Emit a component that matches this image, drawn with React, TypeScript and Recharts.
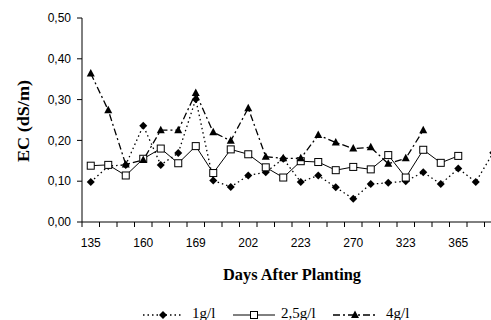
import React from 'react';
import { LineChart, Line, XAxis, YAxis } from 'recharts';

// days printed under every third sample
const tickDays = ['135', '160', '169', '202', '223', '270', '323', '365'];

// EC (dS/m) per sample
const g1 = [0.098, 0.137, 0.14, 0.236, 0.14, 0.169, 0.301, 0.102, 0.086, 0.114, 0.122, 0.155,
  0.098, 0.114, 0.085, 0.057, 0.093, 0.096, 0.1, 0.122, 0.093, 0.131, 0.098, 0.17];
const g25 = [0.138, 0.14, 0.114, 0.155, 0.18, 0.144, 0.186, 0.12, 0.178, 0.166, 0.134, 0.109,
  0.149, 0.147, 0.127, 0.135, 0.129, 0.164, 0.109, 0.177, 0.145, 0.162];
const g4 = [0.364, 0.274, 0.141, 0.152, 0.225, 0.225, 0.316, 0.22, 0.199, 0.279, 0.16, 0.156,
  0.156, 0.213, 0.195, 0.18, 0.183, 0.143, 0.156, 0.225];

const yTicks = [0, 0.1, 0.2, 0.3, 0.4, 0.5];

const data = g1.map((v, i) => ({
  x: i + 0.5,
  g1: v,
  g25: g25[i] ?? null,
  g4: g4[i] ?? null,
}));
const bandTicks = Array.from({ length: g1.length + 1 }, (_, i) => i);
const labelTicks = tickDays.map((_, i) => i * 3 + 0.5);

const sans = '"Liberation Sans", Arial, sans-serif';
const serif = '"Liberation Serif", "Times New Roman", serif';

const diamond = (cx: number, cy: number, k?: any) => (
  <path key={k} d={`M${cx},${cy - 4}L${cx + 4},${cy}L${cx},${cy + 4}L${cx - 4},${cy}Z`} fill="#000" />
);
const square = (cx: number, cy: number, k?: any) => (
  <rect key={k} x={cx - 3.5} y={cy - 3.5} width={7} height={7} fill="#fff" stroke="#000" strokeWidth={1} />
);
const triangle = (cx: number, cy: number, k?: any) => (
  <path key={k} d={`M${cx},${cy - 4.5}L${cx + 4},${cy + 3}L${cx - 4},${cy + 3}Z`} fill="#000" />
);

const dotOf = (shape: (cx: number, cy: number, k?: any) => React.ReactElement) => (p: any) =>
  p.cy == null || p.value == null ? <g key={`e${p.index}`} /> : shape(p.cx, p.cy, `m${p.index}`);

const App = () => (
  <div style={{ position: 'absolute', left: 0, top: 0, width: 491, height: 320, overflow: 'hidden', background: '#fff' }}>
    <LineChart width={502} height={320} data={data} margin={{ top: 18, right: 0, bottom: 68, left: 0 }}>
      <XAxis
        xAxisId="band"
        type="number"
        dataKey="x"
        domain={[0, 24]}
        ticks={bandTicks}
        interval={0}
        tickFormatter={() => ''}
        height={1}
        tickSize={5}
        axisLine={{ stroke: '#000' }}
        tickLine={{ stroke: '#000' }}
      />
      <XAxis
        xAxisId="lab"
        type="number"
        dataKey="x"
        domain={[0, 24]}
        ticks={labelTicks}
        interval={0}
        tickFormatter={(v: number) => tickDays[Math.round((v - 0.5) / 3)]}
        axisLine={false}
        tickLine={false}
        height={29}
        tickSize={5}
        tickMargin={10}
        tick={{ fill: '#000', fontSize: 12, fontFamily: sans }}
      />
      <YAxis
        width={82}
        domain={[0, 0.5]}
        ticks={yTicks}
        interval={0}
        tickSize={5}
        tickMargin={6}
        tickFormatter={(v: number) => v.toFixed(2).replace('.', ',')}
        axisLine={{ stroke: '#000' }}
        tickLine={{ stroke: '#000' }}
        tick={{ fill: '#000', fontSize: 12, fontFamily: sans }}
      />
      <Line xAxisId="band" dataKey="g1" stroke="#000" strokeWidth={1.3} strokeDasharray="1.5 3"
        dot={dotOf(diamond)} activeDot={false} isAnimationActive={false} />
      <Line xAxisId="band" dataKey="g25" stroke="#000" strokeWidth={1} dot={dotOf(square)}
        activeDot={false} isAnimationActive={false} />
      <Line xAxisId="band" dataKey="g4" stroke="#000" strokeWidth={1.3} strokeDasharray="7 3 2 3"
        dot={dotOf(triangle)} activeDot={false} isAnimationActive={false} />
    </LineChart>
    <svg width={491} height={320} style={{ position: 'absolute', left: 0, top: 0, pointerEvents: 'none' }}>
      <text transform="translate(29,121) rotate(-90)" textAnchor="middle" fontFamily={serif} fontWeight="bold"
        fontSize={16} textLength={82} lengthAdjust="spacingAndGlyphs">EC  (dS/m)</text>
      <text x={292} y={280} textAnchor="middle" fontFamily={serif} fontWeight="bold" fontSize={17}
        textLength={138} lengthAdjust="spacingAndGlyphs">Days After Planting</text>
      <g fontFamily={serif} fontSize={15}>
        <line x1={143} y1={315} x2={182} y2={315} stroke="#000" strokeWidth={1.3} strokeDasharray="1.5 3" />
        {diamond(163, 315)}
        <text x={192} y={318}>1g/l</text>
        <line x1={233} y1={315} x2={275} y2={315} stroke="#000" strokeWidth={1} />
        {square(254, 315)}
        <text x={281} y={318}>2,5g/l</text>
        <line x1={333} y1={315} x2={377} y2={315} stroke="#000" strokeWidth={1.3} strokeDasharray="7 3 2 3" />
        {triangle(355, 315)}
        <text x={386} y={318}>4g/l</text>
      </g>
    </svg>
  </div>
);

export default App;
